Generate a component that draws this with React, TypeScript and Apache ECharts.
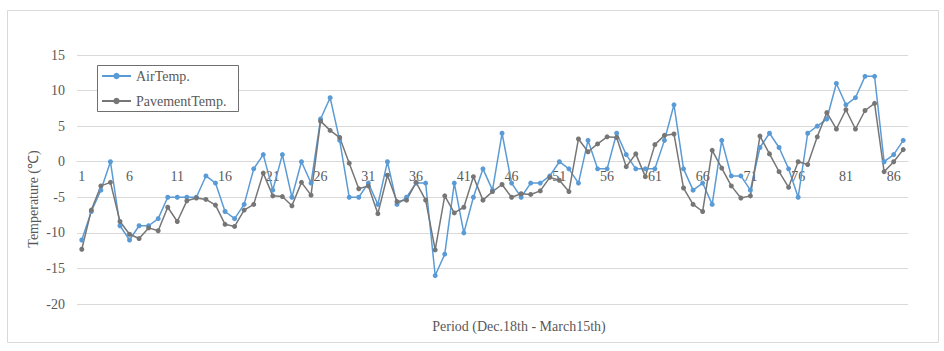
import React, { useEffect, useRef } from "react";
import * as echarts from "echarts";

const periods: string[] = Array.from({ length: 87 }, (_, i) => String(i + 1));

const airTemp: number[] = [
  -11, -7, -4, 0, -9, -11, -9, -9, -8, -5,
  -5, -5, -5, -2, -3, -7, -8, -6, -1, 1,
  -4, 1, -5, 0, -3, 6, 9, 3, -5, -5,
  -3, -6, 0, -6, -5, -3, -3, -16, -13, -3,
  -10, -5, -1, -4, 4, -3, -5, -3, -3, -2,
  0, -1, -3, 3, -1, -1, 4, 1, -1, -1,
  -1, 3, 8, -1, -4, -3, -6, 3, -2, -2,
  -4, 2, 4, 2, -1, -5, 4, 5, 6, 11,
  8, 9, 12, 12, 0, 1, 3,
];

const pavementTemp: number[] = [
  -12.3, -6.8, -3.4, -2.9, -8.4, -10.2, -10.8, -9.3, -9.7, -6.4,
  -8.4, -5.5, -5.1, -5.3, -6.1, -8.8, -9.1, -6.8, -6.0, -1.6,
  -4.8, -4.9, -6.2, -2.9, -4.7, 5.7, 4.4, 3.4, -0.2, -3.8,
  -3.4, -7.3, -1.9, -5.6, -5.4, -2.9, -5.4, -12.4, -4.8, -7.2,
  -6.4, -2.1, -5.4, -4.2, -3.2, -5.0, -4.5, -4.6, -4.1, -2.2,
  -2.6, -4.2, 3.2, 1.4, 2.5, 3.5, 3.4, -0.7, 1.1, -2.1,
  2.4, 3.7, 3.9, -3.7, -6.0, -7.0, 1.6, -0.9, -3.4, -5.1,
  -4.8, 3.6, 1.1, -1.4, -3.6, 0, -0.4, 3.5, 6.9, 4.6,
  7.3, 4.6, 7.2, 8.2, -1.4, 0, 1.7,
];

const seriesNames: string[] = ["AirTemp.", "PavementTemp."];
const yAxisName = "Temperature (℃)";
const xAxisName = "Period (Dec.18th - March15th)";

export default function App() {
  const ref = useRef<HTMLDivElement>(null);
  useEffect(() => {
    if (!ref.current) return;
    const chart = echarts.init(ref.current, undefined, { renderer: "svg" });
    const font = "'Liberation Serif', 'Times New Roman', serif";
    const textColor = "#595959";
    const yMin = -20;
    const yMax = 15;
    const gridTop = 55;
    const gridBottom = 47;
    const plotH = 351 - gridTop - gridBottom;
    const zeroOffset = -((0 - yMin) / (yMax - yMin)) * plotH;
    chart.setOption({
      animation: false,
      backgroundColor: "#ffffff",
      grid: { left: 77, right: 36, top: gridTop, bottom: gridBottom, containLabel: false },
      legend: {
        orient: "vertical",
        left: 101,
        top: 69,
        padding: 0,
        itemGap: 11,
        itemWidth: 29,
        itemHeight: 8,
        textStyle: { fontFamily: font, fontSize: 14, color: textColor },
        data: seriesNames,
      },
      xAxis: {
        type: "category",
        data: periods,
        boundaryGap: true,
        position: "bottom",
        offset: zeroOffset,
        axisLine: { onZero: false, lineStyle: { color: "#d9d9d9", width: 1 } },
        axisTick: { show: false },
        axisLabel: {
          interval: 4,
          margin: 8,
          fontFamily: font,
          fontSize: 14,
          color: textColor,
        },
        splitLine: { show: false },
      },
      yAxis: {
        type: "value",
        min: yMin,
        max: yMax,
        interval: 5,
        axisLine: { show: false },
        axisTick: { show: false },
        axisLabel: { margin: 12, fontFamily: font, fontSize: 14, color: textColor },
        splitLine: { lineStyle: { color: "#d9d9d9", width: 1 } },
      },
      graphic: [
        {
          type: "rect",
          z: 0,
          shape: { x: 7.5, y: 10.5, width: 931, height: 332 },
          style: { fill: "none", stroke: "#d9d9d9", lineWidth: 1 },
          silent: true,
        },
        {
          type: "rect",
          z: 3,
          shape: { x: 97.5, y: 65.5, width: 141, height: 46 },
          style: { fill: "#ffffff", stroke: "#6f6f6f", lineWidth: 1 },
          silent: true,
        },
        {
          type: "text",
          x: 33,
          y: 199,
          rotation: Math.PI / 2,
          style: {
            text: yAxisName,
            fontFamily: font,
            fontSize: 14,
            fill: textColor,
            align: "center",
            verticalAlign: "middle",
          },
        },
        {
          type: "text",
          x: 519,
          y: 326,
          style: {
            text: xAxisName,
            fontFamily: font,
            fontSize: 14,
            fill: textColor,
            align: "center",
            verticalAlign: "middle",
          },
        },
      ],
      series: [
        {
          name: seriesNames[0],
          type: "line",
          data: airTemp,
          symbol: "circle",
          symbolSize: 5,
          showSymbol: true,
          color: "#5b9bd5",
          lineStyle: { color: "#5b9bd5", width: 1.5 },
          itemStyle: { color: "#5b9bd5" },
        },
        {
          name: seriesNames[1],
          type: "line",
          data: pavementTemp,
          symbol: "circle",
          symbolSize: 5,
          showSymbol: true,
          color: "#767676",
          lineStyle: { color: "#767676", width: 1.5 },
          itemStyle: { color: "#767676" },
        },
      ],
    });
    return () => chart.dispose();
  }, []);
  return (
    <div
      ref={ref}
      style={{ position: "absolute", left: 0, top: 0, width: 944, height: 351 }}
    />
  );
}
